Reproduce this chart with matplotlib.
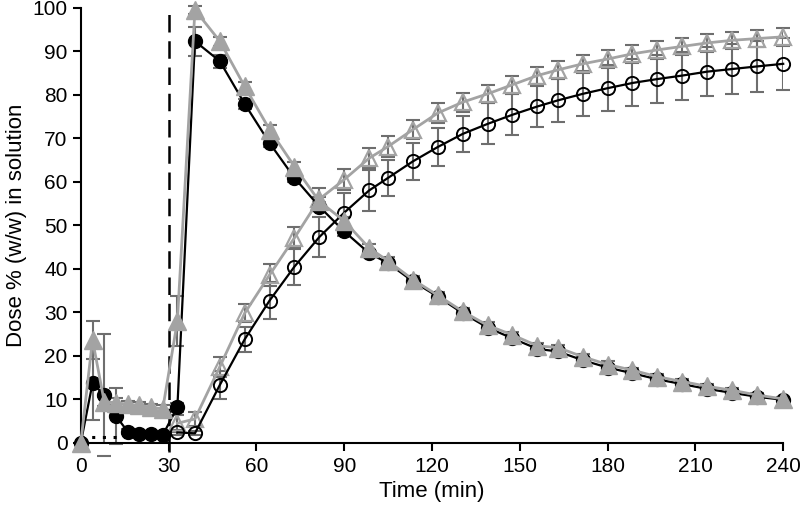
import matplotlib
matplotlib.use("Agg")
import matplotlib.pyplot as plt

plt.rcParams['font.family'] = ['Liberation Sans', 'DejaVu Sans']

# --- data ---
t_dec = [0, 4, 8, 12, 16, 20, 24, 28, 33, 39, 47.5, 56, 64.5, 73, 81.5, 90, 98.5, 105,
         113.5, 122, 130.5, 139, 147.5, 156, 163, 171.5, 180, 188.5, 197, 205.5, 214,
         222.5, 231, 240]
dec_circle = [0, 13.7, 11.0, 6.2, 2.6, 2.1, 2.0, 1.8, 8.2, 92.3, 87.7, 77.9, 68.9, 60.9,
              54.3, 48.6, 43.6, 41.3, 37.1, 33.6, 29.8, 26.5, 24.0, 21.6, 21.0, 19.0,
              17.3, 16.0, 14.6, 13.5, 12.4, 11.5, 10.6, 9.9]
dec_circle_sd = [0, 8.4, 14.0, 6.4, 0.5, 0.3, 0.3, 0.3, 1.0, 3.3, 1.5, 1.2, 1.0, 1.0,
                 1.0, 1.0, 0.8, 0.8, 0.8, 0.8, 0.8, 0.7, 0.7, 0.7, 0.7, 0.7, 0.7, 0.6,
                 0.6, 0.6, 0.6, 0.6, 0.5, 0.5]
dec_tri = [0, 23.7, 9.5, 9.2, 8.9, 8.6, 8.2, 7.8, 28.0, 99.5, 92.3, 81.9, 72.0, 63.5,
           55.5, 51.0, 44.8, 41.8, 37.5, 33.9, 30.2, 27.0, 24.8, 22.3, 21.9, 19.8,
           18.0, 16.7, 15.2, 14.1, 13.0, 12.1, 11.0, 10.1]
dec_tri_sd = [0, 4.4, 1.0, 1.0, 0.8, 0.8, 0.8, 0.8, 5.7, 1.0, 1.0, 1.0, 1.0, 1.0,
              1.0, 1.0, 0.8, 0.8, 0.8, 0.8, 0.8, 0.7, 0.7, 0.7, 0.7, 0.7, 0.7, 0.6,
              0.6, 0.6, 0.6, 0.6, 0.5, 0.5]

t_dis = [33, 39, 47.5, 56, 64.5, 73, 81.5, 90, 98.5, 105, 113.5, 122, 130.5, 139, 147.5,
         156, 163, 171.5, 180, 188.5, 197, 205.5, 214, 222.5, 231, 240]
dis_circle = [2.4, 2.2, 13.3, 23.8, 32.7, 40.5, 47.3, 52.9, 58.0, 60.9, 64.7, 68.0, 71.0,
              73.3, 75.4, 77.3, 78.7, 80.2, 81.5, 82.7, 83.6, 84.4, 85.3, 85.9, 86.5, 87.1]
dis_circle_sd = [0.6, 0.5, 3.3, 2.9, 4.2, 4.3, 4.6, 4.6, 4.8, 4.2, 4.2, 4.4, 4.2, 4.7,
                 4.7, 4.7, 5.0, 5.2, 5.3, 5.4, 5.5, 5.5, 5.7, 5.7, 5.8, 6.0]
dis_tri = [4.5, 5.5, 17.5, 29.8, 38.6, 47.1, 56.0, 60.5, 65.4, 68.1, 72.0, 75.8, 78.3,
           80.2, 82.3, 84.4, 85.7, 87.1, 88.2, 89.4, 90.3, 91.1, 91.9, 92.5, 92.9, 93.3]
dis_tri_sd = [2.0, 1.7, 2.3, 2.0, 2.5, 2.5, 2.5, 2.5, 2.3, 2.3, 2.2, 2.2, 2.2, 2.1, 2.1,
              2.0, 2.0, 2.0, 2.0, 2.0, 2.0, 2.0, 2.0, 2.0, 2.0, 2.0]

dotted_t = [0, 30]
dotted_y = [1.4, 1.4]
switch_time = 30

x_ticks = [0, 30, 60, 90, 120, 150, 180, 210, 240]
y_ticks = [0, 10, 20, 30, 40, 50, 60, 70, 80, 90, 100]

# --- style ---
GREY = '#A3A3A3'
ERR = '#6E6E6E'

fig = plt.figure(figsize=(8, 5.12), dpi=100)
ax = fig.add_axes([0.101, 0.135, 0.878, 0.85])

eb = dict(fmt='none', ecolor=ERR, elinewidth=1.5, capsize=5, capthick=1.5, zorder=1)
ax.errorbar(t_dis, dis_tri, yerr=dis_tri_sd, **eb)
ax.errorbar(t_dis, dis_circle, yerr=dis_circle_sd, **eb)
ax.errorbar(t_dec, dec_circle, yerr=dec_circle_sd, **eb)
ax.errorbar(t_dec, dec_tri, yerr=dec_tri_sd, **eb)

ax.plot(dotted_t, dotted_y, color='black', linestyle=(0, (1, 2.5)), lw=2.2, zorder=2)

ax.plot(t_dis, dis_tri, color=GREY, lw=2, marker='^', ms=11.5, mfc='none', mec=GREY,
        mew=1.6, zorder=3)
ax.plot(t_dis, dis_circle, color='black', lw=1.6, marker='o', ms=9.5, mfc='none',
        mec='black', mew=1.4, zorder=4)
ax.plot(t_dec, dec_circle, color='black', lw=1.6, marker='o', ms=10, mfc='black',
        mec='black', zorder=5)
ax.plot(t_dec, dec_tri, color=GREY, lw=2, marker='^', ms=12.5, mfc=GREY, mec=GREY,
        zorder=6)

ax.axvline(switch_time, ymin=-0.02, ymax=1.0, color='black', lw=1.8,
           linestyle=(0, (7, 3.5)), clip_on=False, zorder=2)

ax.set_xlim(0, 240)
ax.set_ylim(0, 100)
ax.set_xticks(x_ticks)
ax.set_yticks(y_ticks)
for s in ['top', 'right']:
    ax.spines[s].set_visible(False)
for s in ['left', 'bottom']:
    ax.spines[s].set_linewidth(1.5)
ax.tick_params(axis='both', direction='out', length=6, width=1.5, labelsize=15)
ax.tick_params(axis='x', pad=4)
ax.set_xlabel('Time (min)', fontsize=16, labelpad=4)
ax.set_ylabel('Dose % (w/w) in solution', fontsize=16, labelpad=4)

for line in ax.lines:
    line.set_clip_on(False)

fig.savefig('out.png', dpi=100)
